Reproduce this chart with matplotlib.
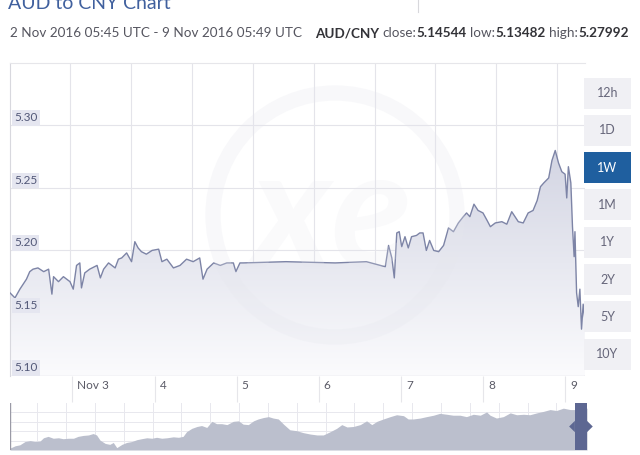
import matplotlib
matplotlib.use("Agg")
import matplotlib.pyplot as plt
import numpy as np
from matplotlib.patches import Rectangle, Circle, Polygon
from matplotlib.colors import LinearSegmentedColormap
from matplotlib.transforms import blended_transform_factory, ScaledTranslation

plt.rcParams['font.family'] = ['Lato', 'DejaVu Sans']

# AUD/CNY rate; x is the day of November 2016 (fractional, UTC)
days = [2.24, 2.30, 2.36, 2.44, 2.48, 2.52, 2.58, 2.65, 2.71, 2.75, 2.77, 2.83, 2.89, 2.97,
        3.01, 3.05, 3.09, 3.11, 3.15, 3.21, 3.30, 3.34, 3.38, 3.44, 3.52, 3.56, 3.60, 3.66,
        3.72, 3.76, 3.80, 3.84, 3.90, 3.97, 4.05, 4.09, 4.15, 4.23, 4.31, 4.39, 4.47, 4.55,
        4.59, 4.64, 4.72, 4.80, 4.88, 4.96, 4.99, 5.04, 5.08, 5.60, 6.20, 6.58, 6.75, 6.81,
        6.85, 6.89, 6.92, 6.95, 6.98, 7.01, 7.05, 7.09, 7.13, 7.19, 7.23, 7.27, 7.31, 7.35,
        7.40, 7.46, 7.52, 7.58, 7.64, 7.70, 7.76, 7.80, 7.84, 7.89, 7.94, 8.00, 8.05, 8.09,
        8.15, 8.23, 8.29, 8.35, 8.39, 8.43, 8.49, 8.55, 8.61, 8.66, 8.70, 8.74, 8.80, 8.84,
        8.88, 8.92, 8.96, 9.00, 9.02, 9.04, 9.07, 9.09, 9.11, 9.12, 9.14, 9.16, 9.18, 9.20,
        9.22, 9.24]
rates = [5.166, 5.162, 5.169, 5.177, 5.183, 5.185, 5.186, 5.183, 5.185, 5.165, 5.179, 5.175,
         5.179, 5.175, 5.169, 5.188, 5.190, 5.170, 5.182, 5.185, 5.188, 5.178, 5.185, 5.190,
         5.186, 5.193, 5.194, 5.198, 5.191, 5.207, 5.202, 5.199, 5.197, 5.200, 5.201, 5.191,
         5.193, 5.186, 5.188, 5.193, 5.191, 5.194, 5.177, 5.185, 5.190, 5.188, 5.190, 5.190,
         5.183, 5.190, 5.190, 5.191, 5.190, 5.191, 5.188, 5.187, 5.204, 5.194, 5.178, 5.214,
         5.215, 5.203, 5.211, 5.202, 5.211, 5.212, 5.214, 5.214, 5.200, 5.208, 5.200, 5.199,
         5.204, 5.218, 5.215, 5.222, 5.227, 5.230, 5.227, 5.237, 5.232, 5.230, 5.224, 5.219,
         5.222, 5.223, 5.221, 5.231, 5.227, 5.223, 5.222, 5.230, 5.232, 5.240, 5.251, 5.254,
         5.258, 5.272, 5.280, 5.270, 5.263, 5.261, 5.242, 5.267, 5.254, 5.219, 5.195, 5.215,
         5.166, 5.155, 5.169, 5.137, 5.157, 5.145]

y_ticks = [5.10, 5.15, 5.20, 5.25, 5.30]
day_ticks = [3, 4, 5, 6, 7, 8, 9]
day_labels = ['Nov 3', '4', '5', '6', '7', '8', '9']
grid_days = [2.970, 3.712, 4.454, 5.195, 5.937, 6.679, 7.420, 8.162, 8.904]
ranges = ['12h', '1D', '1W', '1M', '1Y', '2Y', '5Y', '10Y']
selected = '1W'

# navigator (longer history), position 0-100 along the strip, height 0-100
nav_t = [0.0, 0.9, 1.7, 2.6, 3.5, 4.3, 5.2, 5.8, 6.6, 7.5, 8.4, 9.2, 10.1, 11.0, 11.8, 12.7,
         13.6, 14.4, 15.0, 15.6, 16.5, 17.3, 17.9, 18.5, 19.4, 20.2, 21.1, 22.0, 22.8, 23.7,
         24.6, 25.4, 26.3, 27.2, 28.3, 29.2, 30.0, 30.6, 31.5, 32.4, 33.2, 34.1, 35.0, 35.8,
         36.7, 37.6, 38.7, 39.6, 40.4, 41.3, 42.2, 43.0, 43.9, 44.8, 45.6, 46.5, 47.4, 48.5,
         49.7, 50.8, 52.0, 53.2, 54.3, 55.5, 56.6, 57.5, 58.4, 59.5, 60.7, 61.8, 62.7, 63.6,
         64.7, 65.9, 67.0, 68.2, 69.0, 69.9, 71.1, 72.2, 73.4, 74.5, 75.7, 76.8, 78.0, 79.1,
         80.3, 81.5, 82.6, 83.2, 84.3, 85.5, 86.7, 87.8, 89.0, 90.1, 91.3, 92.4, 93.6, 94.7,
         95.9, 97.1, 98.2, 100.0]
nav_h = [4, 9, 11, 18, 20, 18, 19, 26, 29, 25, 26, 24, 25, 25, 29, 31, 32, 35, 32, 21, 14,
         12, 16, 5, 12, 16, 18, 22, 24, 26, 25, 27, 25, 26, 28, 27, 29, 39, 46, 50, 52, 48,
         61, 56, 56, 54, 61, 62, 55, 54, 62, 66, 69, 71, 68, 66, 55, 43, 41, 37, 34, 32, 32,
         39, 46, 54, 49, 50, 54, 62, 54, 61, 66, 71, 75, 73, 66, 66, 68, 71, 74, 78, 76, 74,
         74, 71, 76, 74, 81, 74, 68, 71, 79, 75, 76, 75, 79, 82, 86, 84, 89, 86, 86, 89]

W, H = 640, 455
fig = plt.figure(figsize=(W / 100, H / 100), dpi=100)


def box(x0, y0, x1, y1):
    # pixel box (top-left origin) -> figure fraction rect
    return [x0 / W, 1 - y1 / H, (x1 - x0) / W, (y1 - y0) / H]


ax = fig.add_axes(box(10, 63, 585, 376))
x0, x1 = 2.2396, 9.2424
ymin, ymax = 5.0995, 5.35
ax.set_xlim(x0, x1)
ax.set_ylim(ymin, ymax)

for g in grid_days:
    ax.axvline(g, color='#e4e4ea', lw=0.8, zorder=0)
for v in y_ticks:
    ax.axhline(v, color='#e4e4ea', lw=0.8, zorder=0)

# gradient fill under the line
poly = ax.fill_between(days, rates, ymin, color='none', lw=0)
grad = np.linspace(0, 1, 256).reshape(-1, 1)
cmap = LinearSegmentedColormap.from_list('f', ['#fbfbfd', '#d3d5e3'])
im = ax.imshow(grad, extent=[x0, x1, ymin, max(rates)], origin='lower', cmap=cmap,
               aspect='auto', zorder=1)
clip = Polygon(poly.get_paths()[0].vertices, closed=True, transform=ax.transData)
im.set_clip_path(clip)
ax.plot(days, rates, color='#7d84a6', lw=1.0, zorder=3)

# faint watermark
ring = Circle((3.35, 2.40), 1.22, transform=fig.dpi_scale_trans, fill=False,
              ec='#e6e7ee', lw=11, alpha=0.28, zorder=4)
ax.add_patch(ring)
ax.text(0.56, 0.5, 'xe', transform=ax.transAxes, fontsize=120, fontweight='bold',
        style='italic', color='#e6e7ee', alpha=0.2, ha='center', va='center', zorder=4)

ax.set_yticks([])
ax.set_xticks(day_ticks)
ax.set_xticklabels([])
ax.tick_params(axis='x', length=19, width=0.8, color='#e6e6ea', direction='out')
for s in ['right', 'bottom']:
    ax.spines[s].set_visible(False)
ax.spines['top'].set_color('#e6e6ea')
ax.spines['left'].set_color('#d8d8de')
ax.axhline(ymin, color='#e0e0e6', lw=1.0, zorder=2)

for v in y_ticks:
    ax.text(x0, v, '%.2f' % v, fontsize=8.5, color='#525878', ha='left', va='bottom',
            transform=ax.transData + ScaledTranslation(4 / 100, 2 / 100, fig.dpi_scale_trans),
            bbox=dict(boxstyle='square,pad=0.18', fc='#e5e6f0', ec='none'), zorder=5)

btrans = blended_transform_factory(ax.transData, ax.transAxes)
for d, lab in zip(day_ticks, day_labels):
    ax.text(d, 0, lab, fontsize=8.5, color='#5a5a66', ha='left', va='top',
            transform=btrans + ScaledTranslation(5 / 100, -4 / 100, fig.dpi_scale_trans))

# range buttons
for i, r in enumerate(ranges):
    cy = 93 + i * 37.3
    sel = r == selected
    fig.patches.append(Rectangle((584 / W, 1 - (cy + 15.5) / H), 47 / W, 31 / H,
                                 transform=fig.transFigure,
                                 fc='#1f5f9f' if sel else '#f0f0f4', ec='none'))
    fig.text(607.5 / W, 1 - cy / H, r, fontsize=9, color='white' if sel else '#66667a',
             ha='center', va='center')

# navigator
nav = fig.add_axes(box(10, 403, 587, 450))
nav.set_xlim(0, 100)
nav.set_ylim(0, 100)
for gx in np.arange(4.7, 100, 5.0):
    nav.axvline(gx, color='#e8e8ee', lw=0.7, zorder=0)
for gy in [20, 40, 60, 80]:
    nav.axhline(gy, color='#e8e8ee', lw=0.7, zorder=0)
nav.fill_between(nav_t, nav_h, 0, color='#bbbfcd', lw=0, zorder=1)
nav.axis('off')
nav.axvline(0, color='#9a9aa6', lw=1.0)
nav.add_patch(Rectangle((97.9, 0), 2.1, 100, fc='#5d6792', ec='none', zorder=3,
                        clip_on=False))
nav.add_patch(Polygon([[96.9, 50], [97.9, 38], [97.9, 62]], fc='#5d6792', zorder=3,
                      clip_on=False))
nav.add_patch(Polygon([[101.0, 50], [100, 38], [100, 62]], fc='#5d6792', zorder=3,
                      clip_on=False))

# header
fig.text(8 / W, 1 - 9 / H, 'AUD to CNY Chart', fontsize=14, color='#40609e',
         ha='left', va='baseline')
fig.add_artist(plt.Line2D([418 / W, 418 / W], [1, 1 - 12 / H], color='#d8d8dc', lw=0.8))

pieces = [(0, '2 Nov 2016 05:45 UTC - 9 Nov 2016 05:49 UTC', 'normal', '#55555f'),
          (13, 'AUD/CNY', 'bold', '#333338'),
          (3, 'close:', 'normal', '#55555f'),
          (0, '5.14544', 'bold', '#333338'),
          (4, 'low:', 'normal', '#55555f'),
          (0, '5.13482', 'bold', '#333338'),
          (4, 'high:', 'normal', '#55555f'),
          (0, '5.27992', 'bold', '#333338')]
rend = fig.canvas.get_renderer()
xp = 10
for gap, s, w, c in pieces:
    xp += gap
    t = fig.text(xp / W, 1 - 33 / H, s, fontsize=9.7, fontweight=w, color=c,
                 ha='left', va='center')
    xp += t.get_window_extent(renderer=rend).width

fig.savefig('out.png', dpi=100)
